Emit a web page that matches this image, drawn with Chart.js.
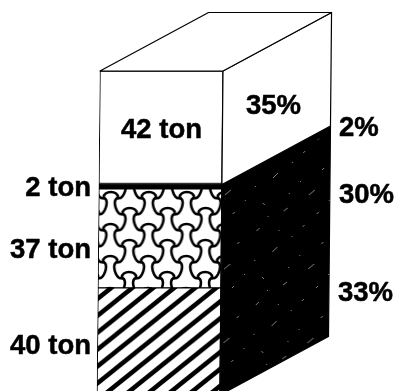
<!DOCTYPE html>
<html>
<head>
<meta charset="utf-8">
<style>html,body{margin:0;padding:0;background:#fff;overflow:hidden}canvas{display:block}</style>
<script src="https://cdn.jsdelivr.net/npm/chart.js@4"></script>
</head>
<body>
<canvas id="c" width="396" height="391"></canvas>
<script>
const categories = ['Total'];
const tons = [40, 37, 2, 42];
const percents = [33, 30, 2, 35];
const tonLabels = ['40 ton', '37 ton', '2 ton', '42 ton'];
const pctLabels = ['33%', '30%', '2%', '35%'];

const INK = '#000';
function tile(w, h, draw) {
  const t = document.createElement('canvas');
  t.width = w; t.height = h;
  draw(t.getContext('2d'));
  return t;
}
function stripePattern() {
  const w = 21, h = 17;
  const t = tile(w, h, g => {
    g.fillStyle = '#fff'; g.fillRect(0, 0, w, h);
    g.strokeStyle = INK; g.lineWidth = 4.6;
    [-1, 0, 1].forEach(k => {
      g.beginPath();
      g.moveTo(-w, h * 2 + k * h); g.lineTo(w * 2, -h + k * h); g.stroke();
    });
  });
  const p = document.createElement('canvas').getContext('2d').createPattern(t, 'repeat');
  p.setTransform(new DOMMatrix().translate(97, 318));
  return p;
}
function trefoilPattern() {
  const w = 38, h = 32, s = 7, H = 19, V = 16;
  const lobe = (g, px, py, qx, qy, nx, ny, bulge, spread) => {
    const ex = qx - px, ey = qy - py;
    g.moveTo(px, py);
    g.bezierCurveTo(
      px - spread * ex + bulge * nx, py - spread * ey + bulge * ny,
      qx + spread * ex + bulge * nx, qy + spread * ey + bulge * ny,
      qx, qy);
  };
  const t = tile(w, h, g => {
    g.fillStyle = '#fff'; g.fillRect(0, 0, w, h);
    g.strokeStyle = INK; g.lineWidth = 2.6; g.lineCap = 'round';
    for (let i = -2; i <= 3; i++) for (let j = -2; j <= 3; j++) {
      const cx = i * w + (((j % 2) + 2) % 2 ? H : 0), cy = j * V;
      g.save(); g.translate(cx, cy);
      g.beginPath();
      lobe(g, -s, -V, s, -V, 0, -1, 8, 0.1);
      const sx = H - s;
      const elen = Math.hypot(sx - s, V);
      lobe(g, sx, 0, s, V, V / elen, (sx - s) / elen, 6.5, 0.05);
      lobe(g, -s, V, -sx, 0, -V / elen, (sx - s) / elen, 6.5, 0.05);
      g.stroke();
      g.restore();
    }
  });
  const p = document.createElement('canvas').getContext('2d').createPattern(t, 'repeat');
  p.setTransform(new DOMMatrix().translate(112, 214));
  return p;
}
function specklePattern() {
  const t = tile(84, 74, g => {
    g.strokeStyle = 'rgba(255,255,255,0.5)'; g.lineWidth = 1;
    [[6,9,3,-3],[22,30,5,-5],[41,14,1,1],[58,47,6,-5],[71,22,2,-2],[12,55,2,2],[33,63,4,-3],[49,33,1,1],[66,66,2,-2],[28,8,1,1],[78,52,1,1],[4,38,1,1],[52,5,2,-2],[38,45,1,1],[17,68,1,1]]
      .forEach(([x, y, dx, dy]) => { g.beginPath(); g.moveTo(x, y); g.lineTo(x + dx, y + dy); g.stroke(); });
  });
  return document.createElement('canvas').getContext('2d').createPattern(t, 'repeat');
}

const frontFills = [stripePattern(), trefoilPattern(), INK, '#fff'];
const sideFills = [INK, INK, INK, '#fff'];
const speckle = specklePattern();
const DEPTH_X = 108, DEPTH_Y = -58.5;
const SKEW = 0.0094, SKEW_Y0 = 71;

const cube = {
  id: 'cube',
  beforeDraw(chart) {
    const c = chart.ctx;
    c.save();
    c.transform(1, 0, -SKEW, 1, SKEW * SKEW_Y0, 0);
  },
  afterDatasetsDraw(chart) {
    const c = chart.ctx, yT = chart.scales.y, yP = chart.scales.yPct;
    const bar = chart.getDatasetMeta(tons.length - 1).data[0];
    const xL = bar.x - bar.width / 2, xR = bar.x + bar.width / 2;
    c.save();
    c.lineWidth = 1.2; c.strokeStyle = INK; c.lineJoin = 'round';
    const face = (lo, hi) => {
      const a = yP.getPixelForValue(lo), b = yP.getPixelForValue(hi);
      c.beginPath();
      c.moveTo(xR, a); c.lineTo(xR, b);
      c.lineTo(xR + DEPTH_X, b + DEPTH_Y); c.lineTo(xR + DEPTH_X, a + DEPTH_Y);
      c.closePath();
    };
    let acc = 0;
    percents.forEach((p, i) => {
      face(acc, acc + p);
      acc += p;
      c.fillStyle = sideFills[i]; c.fill(); c.stroke();
    });
    face(0, percents[0] + percents[1]);
    c.save();
    c.clip();
    c.fillStyle = speckle; c.fillRect(0, 0, chart.width, chart.height);
    c.restore();
    const top = yT.getPixelForValue(yT.max);
    c.beginPath();
    c.moveTo(xL, top); c.lineTo(xR, top);
    c.lineTo(xR + DEPTH_X, top + DEPTH_Y); c.lineTo(xL + DEPTH_X, top + DEPTH_Y);
    c.closePath();
    c.fillStyle = '#fff'; c.fill(); c.stroke();
    c.restore();
  },
  afterDraw(chart) {
    const c = chart.ctx;
    c.restore();
    c.save();
    c.fillStyle = INK; c.strokeStyle = INK; c.lineWidth = 0.5; c.lineJoin = 'round';
    c.font = 'bold 27.5px "Liberation Sans", Arial, sans-serif';
    c.textBaseline = 'middle';
    const put = (s, x, y, a) => { c.textAlign = a; c.fillText(s, x, y); c.strokeText(s, x, y); };
    put(tonLabels[0], 91, 346, 'right');
    put(tonLabels[1], 91, 250, 'right');
    put(tonLabels[2], 91, 188, 'right');
    put(tonLabels[3], 121, 130, 'left');
    put(pctLabels[3], 246, 106, 'left');
    put(pctLabels[2], 339, 128, 'left');
    put(pctLabels[1], 339, 195, 'left');
    put(pctLabels[0], 338, 293, 'left');
    c.restore();
  }
};

new Chart(document.getElementById('c'), {
  type: 'bar',
  data: {
    labels: categories,
    datasets: tons.map((v, i) => ({
      label: tonLabels[i],
      data: [v],
      backgroundColor: frontFills[i],
      borderColor: INK,
      borderWidth: 1,
      borderSkipped: false,
      clip: false,
      categoryPercentage: 1,
      barPercentage: 1
    }))
  },
  options: {
    responsive: false,
    animation: false,
    events: [],
    layout: { padding: { left: 100, right: 173, top: 71, bottom: 0 } },
    plugins: { legend: { display: false }, tooltip: { enabled: false }, title: { display: false } },
    scales: {
      x: { display: false, stacked: true },
      y: { display: false, stacked: true, min: 1.5, max: 121 },
      yPct: { display: false, min: 1.24, max: 100 }
    }
  },
  plugins: [cube]
});
</script>
</body>
</html>
